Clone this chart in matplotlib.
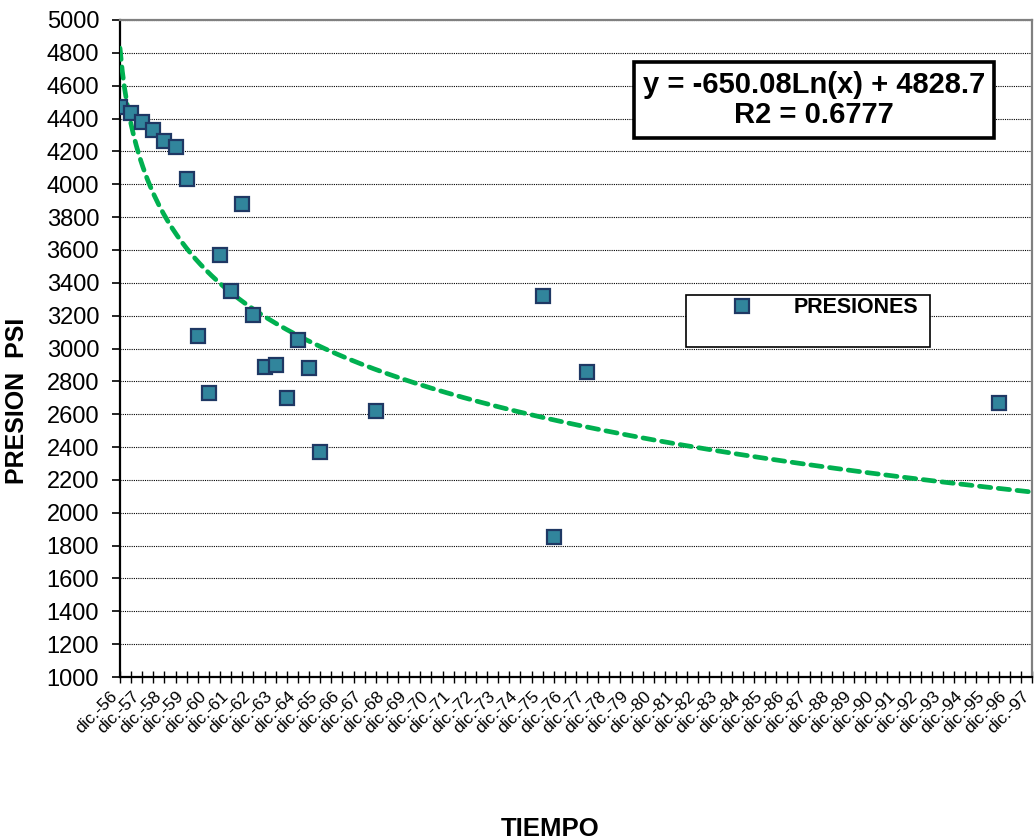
import numpy as np
import matplotlib
matplotlib.use("Agg")
import matplotlib.pyplot as plt
from matplotlib.patches import Rectangle
from matplotlib.ticker import MultipleLocator, FixedLocator

plt.rcParams['font.family'] = ['Liberation Sans', 'DejaVu Sans']

# years counted from dic.-56
anios = [0, 0.5, 1, 1.5, 2, 2.5, 3, 3.5, 4, 4.5, 5, 5.5, 6, 6.5, 7, 7.5,
         8, 8.5, 9, 11.5, 19, 19.5, 21, 39.5]
presiones = [4472, 4435, 4380, 4329, 4262, 4228, 4029, 3075, 2728, 3569, 3350,
             3880, 3203, 2890, 2900, 2700, 3049, 2882, 2368, 2622, 3317, 1854,
             2854, 2671]
etiquetas = ["dic.-%02d" % a for a in range(56, 98)]

# log trendline as printed on the chart
a_coef, b_coef = -650.08, 4828.7
t_tr = np.linspace(0, 41, 400)
x_tr = 1 + 1.99 * t_tr ** 0.93     # trendline x units vs. years on the axis
y_tr = a_coef * np.log(x_tr) + b_coef

fig = plt.figure(figsize=(10.34, 8.4), dpi=100)
ax = fig.add_axes([120/1034, 1 - 677/840, 912/1034, 657/840])

ax.plot(t_tr, y_tr, color='#00B050', lw=3.4, ls=(0, (2.4, 1.6)),
        dash_capstyle='round', zorder=3)
ax.plot(anios, presiones, ls='none', marker='s', ms=10.5, mfc='#31859C',
        mec='#1F3864', mew=1.6, label='PRESIONES', zorder=4)

ax.set_xlim(0, 41)
ax.set_ylim(1000, 5000)
ax.yaxis.set_major_locator(MultipleLocator(200))
ax.xaxis.set_major_locator(FixedLocator(range(len(etiquetas))))
ax.xaxis.set_minor_locator(MultipleLocator(0.5))
ax.set_xticklabels(etiquetas, rotation=45, ha='right', fontsize=12.5)
ax.tick_params(axis='x', which='both', direction='inout', length=9, width=1,
               pad=4)
ax.tick_params(axis='y', direction='out', length=6, width=1.2, labelsize=17,
               pad=9)
ax.grid(axis='y', color='black', ls=(0, (1, 1)), lw=0.8)

for s in ['left', 'bottom']:
    ax.spines[s].set_linewidth(1.6)
    ax.spines[s].set_color('black')
for s in ['top', 'right']:
    ax.spines[s].set_linewidth(1.6)
    ax.spines[s].set_color('#808080')

ax.set_ylabel('PRESION  PSI', fontsize=18, fontweight='bold')
ax.yaxis.set_label_coords(-0.1, 0.42)
ax.set_xlabel('TIEMPO', fontsize=18.5, fontweight='bold')
ax.xaxis.set_label_coords(0.4715, -0.213)

# legend box
ax.add_patch(Rectangle((0.6206, 0.5023), 0.2675, 0.0791, transform=ax.transAxes,
                       fc='white', ec='black', lw=1.2, zorder=5))
ax.legend(loc='center left', bbox_to_anchor=(0.6206, 0.562), frameon=False,
          prop={'weight': 'bold', 'size': 15.5}, handlelength=4.4,
          handletextpad=0.2, borderpad=0.4, borderaxespad=0, numpoints=1)

fig.text(814/1034, 1 - 100/840, 'y = -650.08Ln(x) + 4828.7\nR2 = 0.6777',
         ha='center', va='center', fontsize=21, fontweight='bold',
         linespacing=1.12,
         bbox=dict(boxstyle='square,pad=0.3', fc='white', ec='black', lw=2.6))

fig.savefig('out.png', dpi=100)
